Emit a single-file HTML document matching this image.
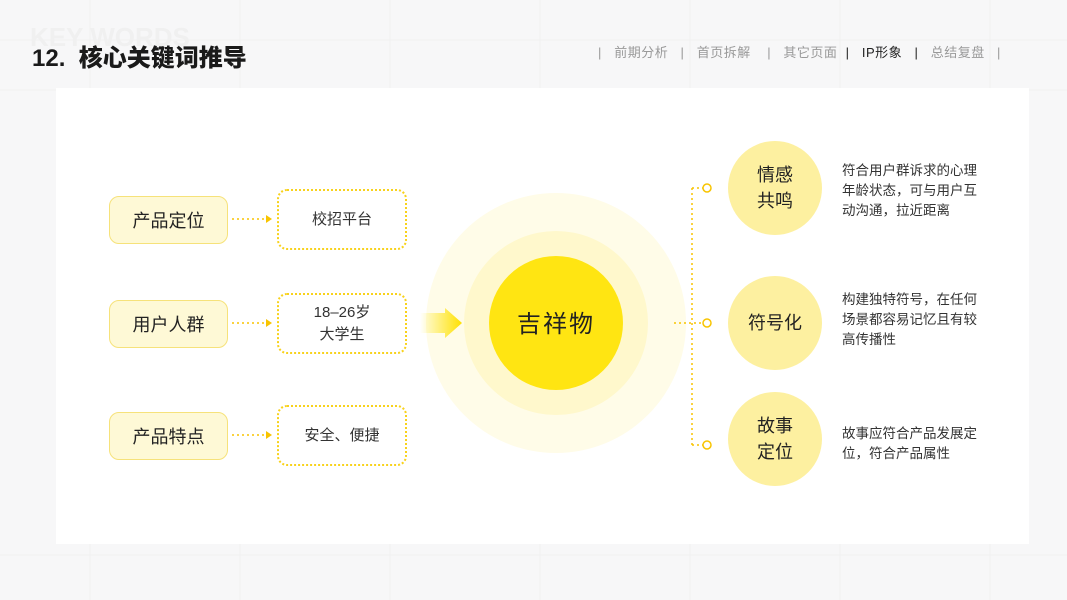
<!DOCTYPE html>
<html><head><meta charset="utf-8"><style>
body{margin:0;width:1067px;height:600px;overflow:hidden;background:#f7f7f8;font-family:"Liberation Sans","Noto Sans CJK SC",sans-serif;position:relative}
.a{position:absolute}
.card{left:56px;top:88px;width:973px;height:456px;background:#fff}
.lb{width:117px;height:46px;border:1px solid #f6e27a;background:#fef9d6;border-radius:10px;display:flex;align-items:center;justify-content:center;font-size:18px;color:#222;left:109px}
.db{width:126px;height:57px;border:2px dotted #f8d21c;border-radius:10px;display:flex;align-items:center;justify-content:center;text-align:center;font-size:15px;color:#333;left:277px;line-height:22px}
.rc{width:94px;height:94px;border-radius:50%;background:#fdf0a0;display:flex;align-items:center;justify-content:center;text-align:center;font-size:18px;color:#222;line-height:26px;left:728px}
.tx{left:842px;font-size:13.5px;color:#333;line-height:20px;width:140px}
.nav{top:42px;font-size:13px;color:#999;left:598px;letter-spacing:.5px}
</style></head><body>
<svg class="a" style="left:0;top:0" width="1067" height="600"><g stroke="#f0f0f1" stroke-width="1">
<path d="M0 40H1067M0 90H1067M0 555H1067M90 0V600M240 0V600M390 0V600M540 0V600M690 0V600M840 0V600M990 0V600"/></g></svg>
<div class="a" style="left:30px;top:22px;font-size:26px;font-weight:bold;color:#f0f0f0">KEY WORDS</div>
<div class="a" style="left:32px;top:38px;font-size:24px;font-weight:900;color:#1a1a1a">12.&nbsp; 核心关键词推导</div>
<div class="a nav">|&nbsp;&nbsp; 前期分析 &nbsp;&nbsp;|&nbsp;&nbsp; 首页拆解 &nbsp;&nbsp;&nbsp;|&nbsp;&nbsp; 其它页面 &nbsp;<span style="color:#222">|&nbsp;&nbsp; IP形象 &nbsp;&nbsp;|</span>&nbsp;&nbsp; 总结复盘 &nbsp;&nbsp;|</div>
<div class="a card"></div>
<svg class="a" style="left:0;top:0" width="1067" height="600">
<defs><linearGradient id="g" x1="0" x2="1"><stop offset="0" stop-color="#ffe600" stop-opacity="0"/><stop offset="1" stop-color="#ffe000"/></linearGradient></defs>
<circle cx="556" cy="323" r="130" fill="#fffce8"/>
<circle cx="556" cy="323" r="92" fill="#fff8cc"/>
<circle cx="556" cy="323" r="67" fill="#ffe512"/>
<path d="M420 313H445V308L462 323L445 338V333H420Z" fill="url(#g)"/>
<g stroke="#f8c400" stroke-width="1.5" stroke-dasharray="2 3" fill="none">
<path d="M232 219H266M232 323H266M232 435H266"/>
<path d="M674 323H703M692 188V445M692 188H703M692 445H703"/></g>
<g fill="#f8c400"><path d="M266 215L272 219L266 223Z"/><path d="M266 319L272 323L266 327Z"/><path d="M266 431L272 435L266 439Z"/></g>
<g fill="#fff" stroke="#f8c400" stroke-width="1.5"><circle cx="707" cy="188" r="4"/><circle cx="707" cy="323" r="4"/><circle cx="707" cy="445" r="4"/></g>
<text x="556" y="332" text-anchor="middle" font-size="24" fill="#222" font-family="Liberation Sans,Noto Sans CJK SC,sans-serif" letter-spacing="2">吉祥物</text>
</svg>
<div class="a lb" style="top:196px">产品定位</div>
<div class="a lb" style="top:300px">用户人群</div>
<div class="a lb" style="top:412px">产品特点</div>
<div class="a db" style="top:189px">校招平台</div>
<div class="a db" style="top:293px">18–26岁<br>大学生</div>
<div class="a db" style="top:405px">安全、便捷</div>
<div class="a rc" style="top:141px">情感<br>共鸣</div>
<div class="a rc" style="top:276px">符号化</div>
<div class="a rc" style="top:392px">故事<br>定位</div>
<div class="a tx" style="top:161px">符合用户群诉求的心理年龄状态，可与用户互动沟通，拉近距离</div>
<div class="a tx" style="top:290px">构建独特符号，在任何场景都容易记忆且有较高传播性</div>
<div class="a tx" style="top:424px">故事应符合产品发展定位，符合产品属性</div>
</body></html>
